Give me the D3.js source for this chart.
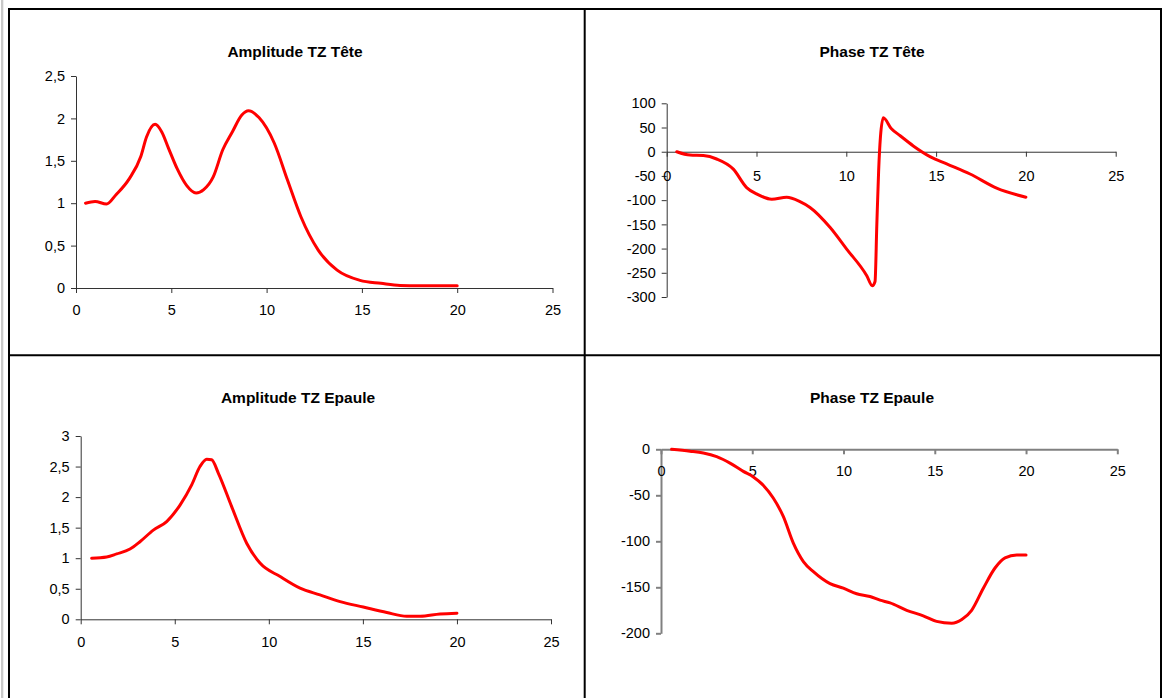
<!DOCTYPE html>
<html>
<head>
<meta charset="utf-8">
<script src="https://cdn.jsdelivr.net/npm/d3@7"></script>
<style>
  html, body { margin: 0; padding: 0; background: #fff; }
  svg { display: block; font-family: "Liberation Sans", Arial, sans-serif; }
</style>
</head>
<body>
<svg id="chart" width="1167" height="698"></svg>
<script>
// ---------- Data ----------
const titles = ["Amplitude TZ Tête", "Phase TZ Tête", "Amplitude TZ Epaule", "Phase TZ Epaule"];
const xTicks = [0, 5, 10, 15, 20, 25];

const ampTeteX = [0.5, 1.0, 1.6, 2.1, 2.8, 3.4, 3.7, 4.15, 4.5, 4.85, 5.3, 5.8, 6.3, 6.7, 7.2, 7.7, 8.2, 8.7, 9.05, 9.6, 10.4, 11.1, 11.8, 12.7, 13.7, 14.9, 16.0, 17.0, 18.0, 19.0, 20.0];
const ampTeteY = [1.00, 1.02, 0.99, 1.10, 1.29, 1.55, 1.78, 1.93, 1.84, 1.65, 1.41, 1.21, 1.12, 1.16, 1.31, 1.63, 1.84, 2.04, 2.09, 2.01, 1.71, 1.27, 0.84, 0.45, 0.21, 0.09, 0.055, 0.03, 0.027, 0.027, 0.027];
const ampTeteTicks = [0, 0.5, 1, 1.5, 2, 2.5];

const phaseTeteX = [0.56, 1.3, 2.04, 2.78, 3.71, 4.45, 5.0, 5.85, 6.68, 7.42, 7.98, 9.09, 10.02, 11.14, 11.45, 11.6, 11.7, 11.8, 11.9, 12.06, 12.5, 13.0, 13.73, 14.66, 15.59, 16.89, 18.37, 20.0];
const phaseTeteY = [0, -7, -8, -15, -36, -74, -87, -98, -94, -103, -115, -156, -201, -256, -277, -268, -150, -40, 30, 70, 48, 33, 12, -10, -25, -46, -75, -94];
const phaseTeteTicks = [-300, -250, -200, -150, -100, -50, 0, 50, 100];

const ampEpauleX = [0.58, 1.38, 1.91, 2.62, 3.15, 3.86, 4.57, 5.28, 5.9, 6.34, 6.7, 6.96, 7.32, 8.03, 8.83, 9.53, 10.6, 11.66, 12.72, 13.79, 15.02, 16.27, 17.33, 18.04, 19.1, 20.0];
const ampEpauleY = [1.0, 1.02, 1.07, 1.15, 1.27, 1.46, 1.60, 1.87, 2.2, 2.5, 2.62, 2.61, 2.39, 1.84, 1.24, 0.92, 0.70, 0.51, 0.40, 0.29, 0.20, 0.11, 0.05, 0.05, 0.087, 0.10];
const ampEpauleTicks = [0, 0.5, 1, 1.5, 2, 2.5, 3];

const phaseEpauleX = [0.58, 1.59, 2.32, 3.05, 3.78, 4.51, 5.06, 5.6, 6.15, 6.7, 7.25, 7.8, 8.35, 9.26, 9.99, 10.72, 11.45, 12.0, 12.55, 13.46, 14.37, 15.1, 15.93, 16.48, 17.02, 17.66, 18.3, 18.85, 19.49, 20.0];
const phaseEpauleY = [0, -2, -4, -8, -15, -24, -30, -39, -53, -73, -102, -122, -133, -146, -151, -157, -160, -164, -167, -175, -181, -187, -189, -185, -175, -151, -129, -118, -115, -115];
const phaseEpauleTicks = [-200, -150, -100, -50, 0];

// ---------- Layout ----------
const svg = d3.select("#chart");
const fmt = d => String(d).replace(".", ",");

const panels = [
  { title: titles[0], tx: 295, ty: 57, xs: ampTeteX, ys: ampTeteY, yTicks: ampTeteTicks,
    xr: [76, 552.5], yd: [0, 2.5], yr: [288, 76], axisColor: "#333", axisW: 1, labOff: 28 },
  { title: titles[1], tx: 872, ty: 57, xs: phaseTeteX, ys: phaseTeteY, yTicks: phaseTeteTicks,
    xr: [666.7, 1115.7], yd: [-300, 100], yr: [297, 103.3], axisColor: "#333", axisW: 1, labOff: 30 },
  { title: titles[2], tx: 298, ty: 403, xs: ampEpauleX, ys: ampEpauleY, yTicks: ampEpauleTicks,
    xr: [80.7, 551], yd: [0, 3], yr: [619.3, 436], axisColor: "#333", axisW: 1, labOff: 28 },
  { title: titles[3], tx: 872, ty: 403, xs: phaseEpauleX, ys: phaseEpauleY, yTicks: phaseEpauleTicks,
    xr: [661, 1117.3], yd: [-200, 0], yr: [633.3, 449.3], axisColor: "#808080", axisW: 2, labOff: 27 }
];

// frame
svg.append("rect").attr("x", 1).attr("y", 0).attr("width", 2.3).attr("height", 698).attr("fill", "#c8c8c8");
const frame = svg.append("g").attr("stroke", "#000").attr("stroke-width", 2).attr("fill", "none");
frame.append("line").attr("x1", 9).attr("x2", 9).attr("y1", 8).attr("y2", 698);
frame.append("line").attr("x1", 8).attr("x2", 1162).attr("y1", 9).attr("y2", 9);
frame.append("line").attr("x1", 1161).attr("x2", 1161).attr("y1", 8).attr("y2", 698);
frame.append("line").attr("x1", 584.7).attr("x2", 584.7).attr("y1", 8).attr("y2", 698);
frame.append("line").attr("x1", 8).attr("x2", 1162).attr("y1", 355.3).attr("y2", 355.3);

panels.forEach(p => {
  const x = d3.scaleLinear().domain([0, 25]).range(p.xr);
  const y = d3.scaleLinear().domain(p.yd).range(p.yr);
  const g = svg.append("g");

  g.append("text").attr("x", p.tx).attr("y", p.ty).attr("text-anchor", "middle")
    .attr("font-size", 15.5).attr("font-weight", "bold").text(p.title);

  // y axis
  const ya = g.append("g").attr("transform", `translate(${x(0)},0)`)
    .call(d3.axisLeft(y).tickValues(p.yTicks).tickFormat(fmt).tickSize(5).tickSizeOuter(0).tickPadding(6));
  // x axis at y=0
  const xa = g.append("g").attr("transform", `translate(0,${y(0)})`)
    .call(d3.axisBottom(x).tickValues(xTicks).tickFormat(d => d).tickSize(5).tickSizeOuter(0).tickPadding(p.labOff - 5 - 11));
  [ya, xa].forEach(a => {
    a.selectAll("path, line").attr("stroke", p.axisColor).attr("stroke-width", p.axisW);
    a.selectAll("text").attr("font-size", 14.5).attr("fill", "#000")
      .attr("font-family", "'Liberation Sans', Arial, sans-serif");
  });

  const data = p.xs.map((v, i) => [v, p.ys[i]]);
  const line = d3.line().x(d => x(d[0])).y(d => y(d[1])).curve(d3.curveMonotoneX);
  g.append("path").datum(data).attr("d", line).attr("fill", "none")
    .attr("stroke", "#ff0000").attr("stroke-width", 3).attr("stroke-linejoin", "round").attr("stroke-linecap", "round");
});
</script>
</body>
</html>
